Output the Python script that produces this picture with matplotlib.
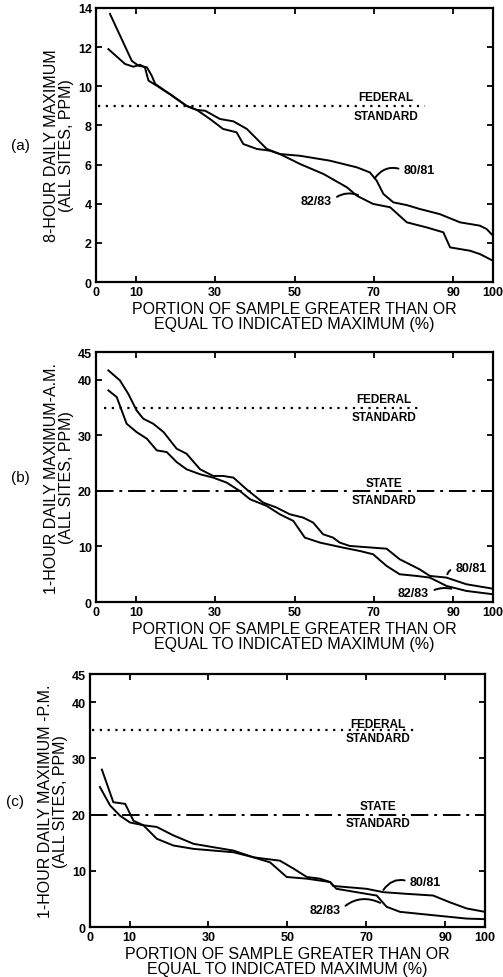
import matplotlib
matplotlib.use("Agg")
import matplotlib.pyplot as plt

plt.rcParams['font.family'] = ['Liberation Sans', 'DejaVu Sans']

# --- data (x = % of sample, y = ppm) ---
# (a) 8-hour daily maximum
a_8081_x = [3.5, 9.0, 10.7, 12.8, 14.0, 14.9, 18.6, 22.8, 25.4, 27.5, 31.2, 34.6, 38.0, 43.0, 46.3,
            51.4, 58.9, 65.7, 69.0, 70.7, 72.4, 74.9, 78.3, 81.6, 86.6, 91.7, 96.7, 98.4, 100]
a_8081_y = [13.7, 11.3, 11.05, 10.97, 10.55, 10.12, 9.6, 9.0, 8.79, 8.75, 8.33, 8.21, 7.82, 6.8, 6.54,
            6.45, 6.2, 5.86, 5.6, 5.18, 4.5, 4.07, 3.93, 3.73, 3.47, 3.05, 2.88, 2.71, 2.37]
a_8283_x = [3.1, 7.3, 9.4, 11.1, 12.3, 13.2, 15.3, 18.6, 22.8, 25.4, 28.7, 32.0, 35.4, 37.1, 40.5,
            43.8, 46.3, 51.4, 57.3, 63.2, 65.7, 69.8, 74.1, 78.3, 83.3, 87.5, 89.2, 94.2, 96.7, 100]
a_8283_y = [11.9, 11.14, 11.0, 11.1, 10.97, 10.29, 10.03, 9.6, 9.0, 8.79, 8.33, 7.82, 7.65, 7.05, 6.8,
            6.71, 6.54, 6.03, 5.52, 4.84, 4.41, 3.99, 3.82, 3.05, 2.79, 2.54, 1.77, 1.6, 1.43, 1.09]

# (b) 1-hour daily maximum, A.M.
b_8081_x = [3.1, 6.0, 8.1, 10.2, 11.9, 14.4, 17.0, 20.3, 22.8, 26.2, 29.5, 32.0, 34.6, 37.9, 42.1,
            45.5, 48.8, 52.2, 54.7, 57.2, 59.7, 61.4, 63.9, 73.2, 76.5, 81.5, 84.1, 88.3, 93.3, 100]
b_8081_y = [41.7, 39.9, 37.5, 34.5, 33.0, 32.1, 30.6, 27.6, 26.7, 23.9, 22.7, 22.7, 22.4, 20.3, 17.9,
            17.0, 15.8, 15.2, 14.3, 12.2, 11.6, 10.7, 10.1, 9.6, 7.7, 5.9, 4.7, 4.4, 3.2, 2.4]
b_8283_x = [3.1, 5.2, 7.7, 10.2, 12.8, 15.3, 17.8, 20.3, 22.8, 26.2, 29.5, 32.9, 36.2, 38.8, 43.0,
            46.3, 49.7, 52.6, 56.4, 62.2, 66.4, 69.8, 73.2, 76.5, 80.7, 84.1, 88.3, 93.3, 100]
b_8283_y = [38.1, 36.9, 32.1, 30.6, 29.4, 27.3, 27.0, 25.2, 23.9, 23.0, 22.4, 21.5, 20.0, 18.5, 17.3,
            15.8, 14.6, 11.6, 10.7, 9.8, 9.2, 8.6, 6.5, 5.0, 4.7, 4.4, 2.9, 2.0, 1.4]

# (c) 1-hour daily maximum, P.M.
c_8081_x = [3.0, 5.9, 8.9, 11.0, 13.5, 16.9, 21.1, 26.2, 31.2, 36.3, 41.4, 44.7, 48.1, 51.5, 54.9,
            58.2, 60.8, 61.6, 70.0, 74.3, 80.2, 86.9, 91.1, 95.4, 100]
c_8081_y = [28.0, 22.2, 21.9, 18.9, 18.1, 17.8, 16.3, 14.8, 14.2, 13.6, 12.4, 12.1, 11.8, 10.4, 8.9,
            8.6, 8.0, 7.3, 6.8, 6.2, 5.9, 5.6, 4.4, 3.3, 2.7]
c_8283_x = [2.5, 5.1, 7.6, 10.1, 13.5, 16.9, 21.1, 26.2, 31.2, 36.3, 41.4, 45.6, 49.8, 54.9, 60.8,
            62.4, 70.0, 72.6, 75.1, 78.5, 86.9, 95.4, 100]
c_8283_y = [24.9, 21.6, 19.8, 18.6, 18.1, 15.7, 14.5, 13.9, 13.6, 13.3, 12.4, 11.5, 8.9, 8.6, 8.0,
            6.8, 5.9, 5.6, 3.6, 2.7, 2.1, 1.5, 1.4]

federal_8hr = 9
federal_1hr = 35
state_1hr = 20

x_ticks = [0, 10, 30, 50, 70, 90, 100]
a_yticks = [0, 2, 4, 6, 8, 10, 12, 14]
bc_yticks = [0, 10, 20, 30, 40, 45]

xlabel = 'PORTION OF SAMPLE GREATER THAN OR\nEQUAL TO INDICATED MAXIMUM (%)'
ylabels = ['8-HOUR DAILY MAXIMUM\n(ALL SITES, PPM)',
           '1-HOUR DAILY MAXIMUM-A.M.\n(ALL SITES, PPM)',
           '1-HOUR DAILY MAXIMUM -P.M.\n(ALL SITES, PPM)']
panel_tags = ['(a)', '(b)', '(c)']

fig = plt.figure(figsize=(5.03, 9.78), dpi=100)
axes = [fig.add_axes([0.191, 0.7106, 0.789, 0.2802]),
        fig.add_axes([0.191, 0.3834, 0.789, 0.2556]),
        fig.add_axes([0.179, 0.0511, 0.785, 0.2587])]

DOTTED = (0, (1, 2.5))
DASHDOT = (0, (9, 3, 1.5, 3))


def style_axes(ax, yticks, ymax, ylabel, tag):
    ax.set_xlim(0, 100)
    ax.set_ylim(0, ymax)
    ax.set_xticks(x_ticks)
    ax.set_yticks(yticks)
    ax.tick_params(direction='in', length=4, width=1.3, top=True, right=True,
                   labelsize=9, pad=3)
    for lab in ax.get_xticklabels() + ax.get_yticklabels():
        lab.set_fontweight('bold')
    for sp in ax.spines.values():
        sp.set_linewidth(1.6)
    ax.set_xlabel(xlabel, fontsize=11.5, labelpad=2, linespacing=1.0)
    ax.set_ylabel(ylabel, fontsize=11.5, labelpad=3, linespacing=1.0)
    ax.text(-0.19, 0.5, tag, transform=ax.transAxes, fontsize=11,
            ha='center', va='center')


def std_label(ax, x, y_top, y_bot, word):
    ax.text(x, y_top, word, fontsize=8.5, fontweight='bold', ha='center', va='center')
    ax.text(x, y_bot, 'STANDARD', fontsize=8.5, fontweight='bold', ha='center', va='center')


def series_label(ax, text, xy, xytext, rad, side):
    # side: which edge of the text the leader leaves from
    relpos = (0.0, 0.5) if side == 'left' else (1.0, 0.5)
    ax.annotate(text, xy=xy, xytext=xytext, fontsize=9, fontweight='bold',
                ha='center', va='center',
                arrowprops=dict(arrowstyle='-', lw=1.4, color='black',
                                shrinkA=2, shrinkB=0, relpos=relpos,
                                connectionstyle=f'arc3,rad={rad}'))


lw = 1.4

# (a)
ax = axes[0]
ax.plot(a_8081_x, a_8081_y, color='black', lw=lw)
ax.plot(a_8283_x, a_8283_y, color='black', lw=lw)
ax.plot([0.5, 83], [federal_8hr, federal_8hr], color='black', lw=1.6, linestyle=DOTTED)
std_label(ax, 73, 9.45, 8.5, 'FEDERAL')
series_label(ax, '80/81', (70.2, 5.3), (81.5, 5.7), 0.4, 'left')
series_label(ax, '82/83', (66.0, 4.45), (55.5, 4.15), -0.3, 'right')
style_axes(ax, a_yticks, 14, ylabels[0], panel_tags[0])

# (b)
ax = axes[1]
ax.plot(b_8081_x, b_8081_y, color='black', lw=lw)
ax.plot(b_8283_x, b_8283_y, color='black', lw=lw)
ax.plot([2, 82], [federal_1hr, federal_1hr], color='black', lw=1.6, linestyle=DOTTED)
ax.plot([0, 100], [state_1hr, state_1hr], color='black', lw=1.4, linestyle=DASHDOT)
std_label(ax, 72.5, 36.6, 33.3, 'FEDERAL')
std_label(ax, 72.5, 21.5, 18.4, 'STATE')
series_label(ax, '80/81', (88.5, 5.0), (94.5, 6.1), 0.3, 'left')
series_label(ax, '82/83', (89.5, 2.4), (80, 1.7), -0.2, 'right')
style_axes(ax, bc_yticks, 45, ylabels[1], panel_tags[1])

# (c)
ax = axes[2]
ax.plot(c_8081_x, c_8081_y, color='black', lw=lw)
ax.plot(c_8283_x, c_8283_y, color='black', lw=lw)
ax.plot([0.5, 82], [federal_1hr, federal_1hr], color='black', lw=1.6, linestyle=DOTTED)
ax.plot([0, 100], [state_1hr, state_1hr], color='black', lw=1.4, linestyle=DASHDOT)
std_label(ax, 73, 36.1, 33.6, 'FEDERAL')
std_label(ax, 73, 21.6, 18.5, 'STATE')
series_label(ax, '80/81', (74.3, 6.6), (85, 8.0), 0.4, 'left')
series_label(ax, '82/83', (73.5, 4.3), (59.5, 3.0), -0.35, 'right')
style_axes(ax, bc_yticks, 45, ylabels[2], panel_tags[2])

fig.savefig('out.png', dpi=100)
